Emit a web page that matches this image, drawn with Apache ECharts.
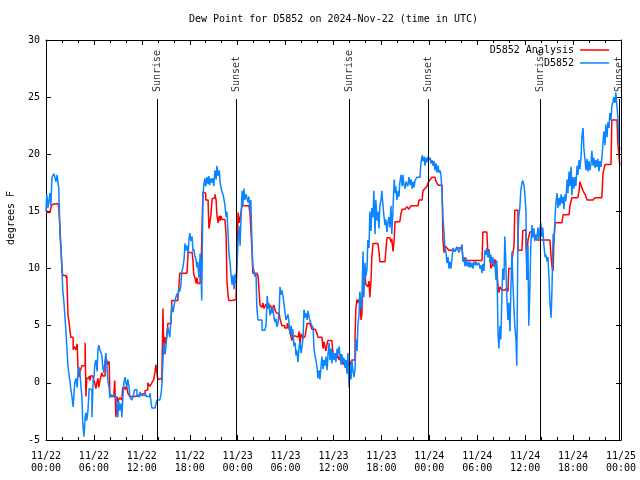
<!DOCTYPE html>
<html><head><meta charset="utf-8">
<script src="https://cdn.jsdelivr.net/npm/echarts@6/dist/echarts.min.js"></script>
<style>html,body{margin:0;background:#fff}#c{width:640px;height:480px}</style>
</head><body><div id="c"></div>
<script>
const titleText = 'Dew Point for D5852 on 2024-Nov-22 (time in UTC)';
const yAxisName = 'degrees F';
const seriesNames = ['D5852 Analysis', 'D5852'];
const xTickLabels = ['11/22\n00:00','11/22\n06:00','11/22\n12:00','11/22\n18:00','11/23\n00:00','11/23\n06:00','11/23\n12:00','11/23\n18:00','11/24\n00:00','11/24\n06:00','11/24\n12:00','11/24\n18:00','11/25\n00:00'];
const sunNames = ['Sunrise','Sunset','Sunrise','Sunset','Sunrise','Sunset'];
const sunHours = [13.94, 23.83, 37.98, 47.88, 61.86, 71.81];
// hours since 11/22 00:00 UTC, dew point F
const analysisData = [
[0,14.9],[0.5,14.9],[0.6,15.3],[0.75,15.6],[1.0,15.7],[1.5,15.7],[1.6,15.4],[1.75,13.5],[1.9,11.4],[2.0,9.9],[2.1,9.4],[2.5,9.2],[2.6,9.4],[2.75,6.0],[2.9,5.2],[3.1,4.0],[3.4,2.9],[3.5,3.2],[3.75,2.9],[3.9,3.4],[4.0,1.4],[4.1,0.5],[4.25,1.0],[4.5,1.5],[4.75,1.5],[4.9,3.5],[5.0,-1.2],[5.1,0.4],[5.4,0.6],[5.5,0.2],[5.6,0.6],[5.9,0.4],[6.1,0.0],[6.25,-0.5],[6.4,0.1],[6.5,0.4],[6.6,-0.4],[6.75,0.2],[7.0,0.9],[7.1,0.6],[7.4,1.8],[7.5,2.2],[7.75,1.6],[7.9,1.9],[8.0,-1.2],[8.25,-1.2],[8.5,-1.0],[8.6,0.2],[8.75,-3.0],[8.9,-1.2],[9.0,-1.6],[9.25,-1.3],[9.5,-1.5],[9.6,-0.4],[9.9,-0.6],[10.1,-0.3],[10.25,-0.9],[10.5,-1.2],[11.1,-1.1],[11.5,-1.0],[12.0,-0.9],[12.4,-0.7],[12.6,-0.6],[12.75,0.0],[13.0,-0.3],[13.25,0.0],[13.5,0.3],[13.65,1.0],[13.75,1.6],[13.9,0.8],[14.0,0.3],[14.25,0.4],[14.5,0.2],[14.65,6.5],[14.75,2.5],[14.9,4.0],[15.0,3.4],[15.15,4.2],[15.25,5.2],[15.65,5.3],[15.75,7.2],[16.5,7.3],[16.65,8.5],[16.75,9.6],[17.65,9.6],[17.8,11.4],[18.3,11.4],[18.4,10.7],[18.5,9.5],[18.65,9.2],[18.8,8.7],[18.9,9.2],[19.0,8.7],[19.3,9.4],[19.4,9.6],[19.5,9.6],[19.65,16.7],[19.9,16.6],[20.0,16.0],[20.3,15.8],[20.4,13.5],[20.5,13.9],[20.65,14.7],[20.8,16.1],[21.0,16.2],[21.15,16.5],[21.3,16.0],[21.4,14.7],[21.55,14.0],[21.7,14.6],[21.8,14.2],[21.9,14.6],[22.05,14.3],[22.4,14.3],[22.55,13.0],[22.65,9.0],[22.8,7.6],[22.9,7.2],[23.3,7.2],[23.55,7.3],[23.8,7.5],[23.9,11.0],[24.05,14.9],[24.2,14.0],[24.4,14.8],[24.55,15.5],[25.05,15.5],[25.4,15.5],[25.55,14.8],[25.8,11.5],[25.9,9.6],[26.4,9.6],[26.55,9.4],[26.8,6.8],[27.05,6.6],[27.15,7.0],[27.3,6.5],[27.55,6.9],[27.8,6.5],[28.05,6.8],[28.3,6.5],[28.55,6.8],[28.7,6.3],[28.9,6.1],[29.2,6.0],[29.3,5.6],[29.55,5.0],[29.9,4.8],[30.2,5.2],[30.4,4.9],[30.55,4.4],[30.8,3.7],[30.9,4.1],[31.2,4.0],[31.55,4.0],[31.7,4.5],[31.8,3.3],[31.95,4.3],[32.2,3.9],[32.45,4.1],[32.7,5.2],[33.05,5.3],[33.3,4.7],[33.7,4.8],[33.95,4.3],[34.05,4.0],[34.55,4.0],[34.7,3.0],[34.8,3.6],[35.05,2.8],[35.2,3.4],[35.3,3.7],[35.8,3.6],[35.95,2.3],[36.2,2.2],[36.45,2.5],[36.7,2.0],[36.95,2.5],[37.2,1.6],[37.45,2.0],[37.7,1.4],[37.8,1.7],[37.95,1.0],[38.05,1.6],[38.3,2.0],[38.55,2.0],[38.7,4.0],[38.8,6.5],[38.95,7.3],[39.05,7.0],[39.3,7.4],[39.45,5.5],[39.55,6.0],[39.7,9.0],[39.95,9.3],[40.05,8.6],[40.3,8.4],[40.45,8.9],[40.55,7.5],[40.7,9.0],[40.8,11.0],[40.95,12.2],[41.55,12.1],[41.7,11.5],[41.8,10.6],[42.45,10.6],[42.55,11.5],[42.7,12.7],[43.05,12.8],[43.2,12.3],[43.3,12.6],[43.45,11.5],[43.6,12.5],[43.7,14.1],[44.3,14.1],[44.45,14.8],[44.6,15.2],[44.95,15.2],[45.2,15.4],[45.45,15.2],[45.7,15.5],[46.6,15.5],[46.7,16.0],[47.1,16.0],[47.2,16.8],[47.45,17.0],[47.7,17.2],[47.85,17.5],[48.1,17.8],[48.35,18.0],[48.7,18.0],[48.85,17.6],[49.1,17.3],[49.35,17.3],[49.6,16.8],[49.7,12.5],[49.85,11.4],[49.95,12.0],[50.2,11.8],[50.45,11.6],[50.85,11.5],[51.2,11.6],[51.45,11.8],[52.1,11.8],[52.2,10.9],[52.6,10.7],[54.6,10.7],[54.7,13.2],[55.2,13.2],[55.35,11.0],[55.45,11.7],[55.6,11.0],[55.7,10.0],[55.95,10.4],[56.1,10.2],[56.2,10.8],[56.35,10.4],[56.45,9.9],[56.6,8.5],[56.7,7.9],[56.85,8.4],[57.1,8.1],[57.45,8.1],[57.7,8.3],[57.85,8.0],[57.95,10.0],[58.35,10.7],[58.45,10.6],[58.6,12.0],[58.7,15.1],[58.95,15.1],[59.1,11.6],[59.6,11.6],[59.7,13.3],[59.95,13.4],[60.1,12.0],[60.2,10.7],[60.35,12.5],[60.6,13.2],[60.95,13.5],[61.2,12.8],[61.45,12.5],[62.5,12.5],[63.1,12.5],[63.25,11.0],[63.35,10.2],[63.5,9.8],[63.6,12.5],[63.75,14.0],[64.6,14.0],[64.75,14.7],[65.5,14.7],[65.6,15.5],[65.85,16.2],[66.6,16.2],[66.75,16.8],[66.85,17.6],[67.1,17.1],[67.25,16.8],[67.5,16.5],[67.75,16.0],[68.5,16.0],[68.75,16.2],[69.6,16.2],[69.75,18.4],[70.0,19.1],[70.75,19.1],[70.85,23.0],[71.5,23.0],[71.6,21.0],[71.85,19.0]
];
const observedData = [
[0,15.0],[0.1,16.5],[0.25,15.3],[0.5,16.6],[0.6,15.5],[0.75,18.0],[1.0,18.3],[1.25,17.6],[1.4,18.2],[1.5,17.5],[1.6,17.1],[1.75,13.0],[1.9,11.4],[2.0,9.9],[2.1,8.1],[2.25,7.0],[2.4,5.5],[2.5,4.5],[2.6,3.2],[2.75,1.5],[2.9,0.6],[3.0,0.2],[3.1,-0.5],[3.25,-1.2],[3.4,-2.1],[3.5,-2.0],[3.6,0.0],[3.75,0.4],[3.9,-0.4],[4.0,0.8],[4.1,1.4],[4.25,0.9],[4.4,-0.5],[4.5,-1.2],[4.6,-3.5],[4.75,-4.7],[4.9,-3.0],[5.0,-2.6],[5.1,-3.3],[5.25,-2.5],[5.4,-0.5],[5.5,-0.4],[5.6,-0.6],[5.75,-3.0],[5.9,0.2],[6.0,0.4],[6.1,1.5],[6.25,2.0],[6.4,1.0],[6.5,2.8],[6.6,3.3],[6.75,2.9],[6.9,3.0],[7.0,2.4],[7.1,1.4],[7.25,0.9],[7.4,2.0],[7.5,2.6],[7.6,1.8],[7.75,0.2],[7.9,-0.4],[8.0,-1.3],[8.1,-1.0],[8.25,-1.2],[8.5,-1.0],[8.75,-1.2],[8.9,-2.1],[9.0,-3.0],[9.1,-1.6],[9.25,-2.4],[9.4,-1.8],[9.5,-3.0],[9.6,-1.6],[9.75,0.0],[9.9,0.5],[10.0,0.5],[10.1,-0.4],[10.25,0.3],[10.4,-0.4],[10.5,-1.2],[10.75,-1.5],[10.9,-1.2],[11.1,-0.6],[11.4,-1.2],[11.75,-0.8],[12.0,-1.1],[12.4,-0.9],[12.6,-1.2],[13.0,-0.9],[13.25,-2.2],[13.65,-2.2],[13.9,-1.5],[14.25,-1.5],[14.4,-1.0],[14.5,-0.3],[14.65,2.0],[14.75,3.5],[14.9,2.5],[15.0,3.0],[15.15,4.4],[15.25,4.9],[15.5,4.0],[15.65,5.5],[15.75,6.8],[15.9,6.2],[16.15,7.2],[16.4,7.8],[16.5,7.5],[16.65,8.3],[16.75,8.0],[16.9,8.6],[17.0,9.7],[17.15,10.1],[17.3,10.9],[17.4,12.2],[17.5,11.6],[17.65,12.0],[17.8,11.3],[17.9,12.5],[18.0,13.1],[18.15,12.4],[18.3,12.8],[18.4,11.5],[18.5,11.7],[18.65,11.1],[18.8,10.7],[18.9,10.1],[19.0,10.6],[19.15,9.2],[19.3,11.3],[19.4,10.0],[19.5,7.2],[19.65,16.4],[19.8,17.5],[19.9,17.9],[20.0,17.2],[20.15,18.0],[20.3,17.4],[20.4,18.1],[20.5,17.3],[20.65,17.9],[20.8,17.5],[20.9,17.9],[21.0,17.2],[21.15,18.6],[21.3,17.8],[21.4,19.0],[21.55,18.1],[21.7,18.6],[21.8,17.5],[21.9,17.4],[22.05,16.7],[22.2,16.4],[22.3,16.0],[22.4,15.6],[22.55,14.5],[22.65,15.0],[22.8,13.0],[22.9,11.4],[23.05,10.5],[23.15,9.6],[23.3,8.6],[23.4,9.4],[23.55,8.2],[23.65,9.5],[23.8,8.7],[23.9,10.0],[24.05,12.4],[24.2,13.7],[24.3,12.0],[24.4,14.0],[24.55,16.8],[24.65,15.5],[24.8,17.0],[24.9,16.0],[25.05,16.5],[25.3,15.8],[25.4,16.3],[25.55,15.0],[25.65,16.0],[25.8,12.0],[25.9,10.2],[26.05,9.8],[26.15,9.3],[26.3,9.6],[26.4,6.6],[26.55,5.5],[26.8,5.5],[27.05,4.6],[27.4,4.6],[27.55,5.0],[27.7,7.6],[27.8,6.6],[27.9,7.0],[28.05,5.9],[28.2,6.5],[28.3,6.1],[28.4,6.6],[28.55,5.7],[28.7,5.3],[28.8,5.6],[28.9,4.9],[29.05,5.2],[29.2,6.3],[29.3,8.4],[29.4,7.7],[29.55,8.1],[29.7,7.5],[29.8,7.6],[29.9,6.3],[30.05,5.5],[30.3,6.0],[30.4,5.4],[30.55,4.3],[30.7,5.0],[30.8,4.0],[30.9,4.7],[31.05,3.2],[31.2,3.5],[31.3,2.4],[31.4,2.9],[31.55,1.8],[31.7,3.2],[31.8,3.6],[31.95,2.6],[32.05,3.1],[32.2,4.0],[32.3,6.4],[32.45,5.7],[32.55,6.1],[32.7,5.5],[32.8,6.3],[33.05,5.4],[33.3,5.0],[33.45,4.8],[33.55,3.0],[33.7,2.3],[33.8,2.0],[33.95,1.3],[34.05,0.4],[34.2,1.1],[34.3,0.3],[34.45,1.5],[34.55,2.3],[34.7,1.2],[34.8,2.0],[34.95,1.5],[35.05,2.3],[35.2,1.1],[35.3,2.4],[35.45,3.5],[35.55,2.0],[35.7,3.0],[35.8,1.7],[35.95,2.8],[36.05,2.0],[36.2,2.6],[36.3,1.8],[36.45,3.0],[36.55,2.4],[36.7,3.2],[36.8,2.5],[36.95,1.6],[37.05,2.5],[37.2,1.8],[37.3,2.2],[37.45,1.3],[37.55,2.0],[37.7,0.8],[37.8,2.6],[37.95,-0.4],[38.05,1.5],[38.2,0.3],[38.3,2.0],[38.45,1.0],[38.55,0.5],[38.7,1.2],[38.8,3.8],[38.95,2.8],[39.05,5.0],[39.2,6.0],[39.3,8.0],[39.45,6.5],[39.55,7.0],[39.7,11.5],[39.8,7.5],[39.95,10.5],[40.05,9.3],[40.2,10.0],[40.3,12.5],[40.45,11.8],[40.55,15.0],[40.7,13.3],[40.8,15.3],[40.95,14.5],[41.05,16.8],[41.2,13.0],[41.3,16.0],[41.45,14.2],[41.55,15.0],[41.7,13.5],[41.8,15.5],[41.95,16.0],[42.05,16.8],[42.2,15.5],[42.3,14.7],[42.45,13.8],[42.55,14.3],[42.7,13.2],[42.8,14.0],[42.95,14.5],[43.05,13.6],[43.2,15.5],[43.3,13.0],[43.45,15.2],[43.6,17.8],[43.7,16.6],[43.8,17.2],[43.95,16.0],[44.1,16.8],[44.2,16.3],[44.3,17.5],[44.45,18.2],[44.6,17.2],[44.7,18.2],[44.8,17.5],[44.95,17.0],[45.1,17.6],[45.3,17.2],[45.45,18.0],[45.6,17.3],[45.7,17.8],[45.85,17.0],[45.95,17.6],[46.1,17.1],[46.2,17.7],[46.45,18.0],[46.7,18.0],[46.85,18.3],[46.95,19.2],[47.1,19.9],[47.2,19.4],[47.35,19.8],[47.45,19.0],[47.6,19.7],[47.7,19.3],[47.85,19.8],[47.95,19.5],[48.1,19.7],[48.2,19.2],[48.35,19.5],[48.45,19.0],[48.6,19.4],[48.7,18.6],[48.85,19.2],[48.95,18.4],[49.1,19.0],[49.2,18.4],[49.35,18.6],[49.45,18.2],[49.6,16.6],[49.7,14.5],[49.85,13.0],[49.95,11.8],[50.1,11.4],[50.2,10.5],[50.35,11.0],[50.45,10.0],[50.6,10.6],[50.7,10.0],[50.85,11.0],[50.95,11.8],[51.2,11.5],[51.45,11.9],[51.7,11.4],[51.95,11.8],[52.1,12.1],[52.2,10.6],[52.35,11.0],[52.45,10.2],[52.6,10.8],[52.7,10.2],[52.85,10.6],[52.95,10.1],[53.1,10.6],[53.2,10.1],[53.35,10.5],[53.45,10.0],[53.6,10.6],[53.7,10.3],[53.85,10.6],[53.95,10.3],[54.1,10.2],[54.2,10.5],[54.35,10.0],[54.45,10.3],[54.6,9.6],[54.7,10.4],[54.85,9.8],[54.95,11.6],[55.1,11.2],[55.2,11.8],[55.35,11.0],[55.45,11.6],[55.6,10.6],[55.7,11.2],[55.85,10.4],[55.95,11.0],[56.1,10.2],[56.2,10.5],[56.35,9.0],[56.45,10.7],[56.6,4.5],[56.7,3.0],[56.85,5.0],[56.95,3.8],[57.1,8.0],[57.2,10.0],[57.35,9.0],[57.45,12.8],[57.6,10.2],[57.7,7.5],[57.85,5.5],[57.95,7.0],[58.1,4.5],[58.2,8.0],[58.35,11.5],[58.45,9.0],[58.6,6.5],[58.7,5.0],[58.85,3.8],[58.95,1.5],[59.1,13.0],[59.2,14.5],[59.35,15.5],[59.45,16.8],[59.6,17.5],[59.7,17.7],[59.85,17.3],[59.95,16.6],[60.1,15.0],[60.2,9.0],[60.35,12.0],[60.45,5.0],[60.6,8.5],[60.7,12.0],[60.85,13.8],[60.95,12.7],[61.1,13.5],[61.2,12.4],[61.35,13.0],[61.45,12.5],[61.6,13.6],[61.7,12.6],[61.85,13.4],[61.95,14.0],[62.1,12.8],[62.2,13.6],[62.35,12.0],[62.5,11.0],[62.6,11.2],[62.75,10.6],[62.85,11.0],[63.0,9.0],[63.1,7.0],[63.25,5.7],[63.35,8.0],[63.5,13.0],[63.6,12.2],[63.75,14.5],[63.85,15.8],[64.0,16.6],[64.1,15.3],[64.25,16.2],[64.35,15.5],[64.5,16.5],[64.6,15.7],[64.75,16.3],[64.85,15.2],[65.0,16.5],[65.1,15.9],[65.25,17.8],[65.35,16.6],[65.5,18.5],[65.6,17.2],[65.75,18.9],[65.85,16.4],[66.0,18.0],[66.1,17.0],[66.25,18.0],[66.35,17.2],[66.5,19.0],[66.6,18.2],[66.75,19.5],[66.85,18.7],[67.0,19.8],[67.1,21.5],[67.25,22.3],[67.35,20.5],[67.5,19.5],[67.6,18.6],[67.75,19.6],[67.85,18.5],[68.0,19.4],[68.1,18.6],[68.25,19.2],[68.35,20.3],[68.5,19.0],[68.6,19.7],[68.75,18.8],[68.85,19.5],[69.0,18.9],[69.1,19.6],[69.25,18.5],[69.35,19.4],[69.5,18.9],[69.6,19.7],[69.75,21.0],[69.85,22.0],[70.0,20.8],[70.1,22.6],[70.25,21.5],[70.35,22.8],[70.5,22.3],[70.6,23.6],[70.75,23.0],[70.85,24.2],[71.0,24.6],[71.1,25.0],[71.25,24.5],[71.35,25.4],[71.5,24.2],[71.6,23.3],[71.75,21.0],[71.85,20.4]
];

const FONT = 'DejaVu Sans Mono';
const txt = {fontFamily: FONT, fontSize: 10, color: '#000'};
const chart = echarts.init(document.getElementById('c'), null, {renderer: 'canvas'});
const sunLineTop = 24.84, sunLabelBase = 25.45;
const axisCommon = {
  axisLine: {show: true, onZero: false, lineStyle: {color: '#000', width: 1}},
  splitLine: {show: false}
};
chart.setOption({
  animation: false,
  backgroundColor: '#fff',
  title: {text: titleText, left: 189, top: 14, padding: 0, textStyle: Object.assign({}, txt, {fontWeight: 'normal'})},
  grid: {left: 46, right: 19, top: 40, bottom: 40, containLabel: false, outerBoundsMode: 'none'},
  legend: {
    data: seriesNames, orient: 'vertical', right: 31, top: 44, align: 'right',
    itemWidth: 29, itemHeight: 1.5, itemGap: 1, icon: 'rect', padding: 0,
    textStyle: Object.assign({}, txt, {lineHeight: 12, padding: [0, 1, 0, 0]}),
    selectedMode: false
  },
  xAxis: [
    Object.assign({type: 'value', min: 0, max: 72, interval: 6, position: 'bottom',
      axisTick: {show: true, inside: true, length: 5, lineStyle: {color: '#000'}},
      minorTick: {show: true, splitNumber: 3, length: 3, lineStyle: {color: '#000'}},
      axisLabel: Object.assign({}, txt, {margin: 10, lineHeight: 12, formatter: v => xTickLabels[Math.round(v / 6)]})}, axisCommon),
    Object.assign({type: 'value', min: 0, max: 72, interval: 6, position: 'top',
      axisTick: {show: true, inside: true, length: 5, lineStyle: {color: '#000'}},
      minorTick: {show: true, splitNumber: 3, length: 3, lineStyle: {color: '#000'}},
      axisLabel: {show: false}}, axisCommon)
  ],
  yAxis: [
    Object.assign({type: 'value', min: -5, max: 30, interval: 5, position: 'left',
      name: yAxisName, nameLocation: 'middle', nameGap: 30,
      nameTextStyle: Object.assign({}, txt, {padding: [0, 0, 0, 44]}),
      axisTick: {show: true, inside: true, length: 5, lineStyle: {color: '#000'}},
      axisLabel: Object.assign({}, txt, {margin: 6})}, axisCommon),
    Object.assign({type: 'value', min: -5, max: 30, interval: 5, position: 'right',
      axisTick: {show: true, inside: true, length: 5, lineStyle: {color: '#000'}},
      axisLabel: {show: false}}, axisCommon)
  ],
  series: [
    {name: seriesNames[0], type: 'line', step: 'end', data: analysisData, showSymbol: false, symbol: 'none',
     color: '#ff0000', lineStyle: {width: 1.5, color: '#ff0000'}, z: 3},
    {name: seriesNames[1], type: 'line', step: 'end', data: observedData, showSymbol: false, symbol: 'none',
     color: '#0a84ff', lineStyle: {width: 1.5, color: '#0a84ff'}, z: 4},
    {name: 'sun', type: 'scatter', symbolSize: 0, z: 5,
     data: sunHours.map((h, i) => ({value: [h, sunLabelBase], name: sunNames[i]})),
     label: Object.assign({show: true, position: 'inside', rotate: 90, align: 'left', verticalAlign: 'middle', formatter: p => p.name}, txt),
     markLine: {silent: true, symbol: 'none', label: {show: false}, lineStyle: {color: '#000', width: 1, type: 'solid'},
       data: sunHours.map(h => [{coord: [h, -5]}, {coord: [h, sunLineTop]}])}
    }
  ]
});
</script></body></html>
